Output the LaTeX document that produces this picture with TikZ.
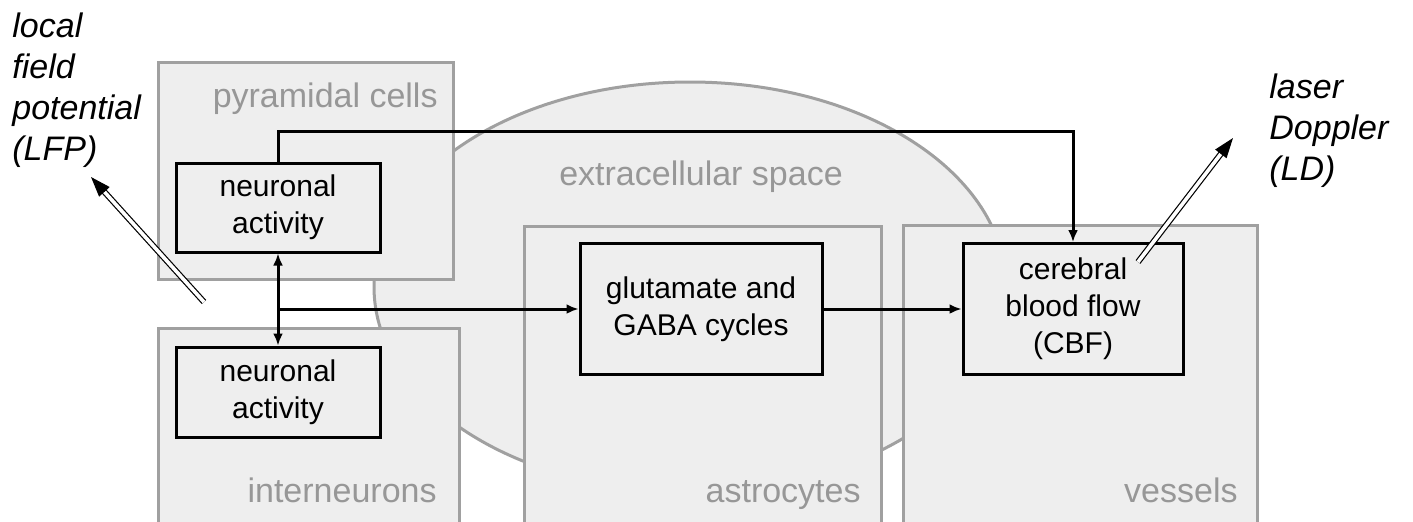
\documentclass[tikz,border=0pt]{standalone}
\usepackage{fontspec}
\setmainfont{Liberation Sans}
\usetikzlibrary{arrows.meta,shapes.geometric,calc}
\definecolor{regfill}{HTML}{EEEEEE}
\definecolor{regdraw}{HTML}{A0A0A0}
\definecolor{labgray}{HTML}{979797}
\tikzset{
  region/.style={draw=regdraw, fill=regfill, line width=1.5pt, inner sep=0pt, anchor=north west},
  ecsshape/.style={ellipse, draw=regdraw, fill=regfill, line width=1.5pt, inner sep=0pt},
  bbox/.style={draw=black, line width=1.5pt, align=center, inner sep=0pt,
    font=\fontsize{15pt}{18.5pt}\selectfont},
  graylab/.style={text=labgray, inner sep=0pt, font=\fontsize{17pt}{20pt}\selectfont},
  measlab/.style={inner sep=0pt, align=left, anchor=base west, font=\fontsize{17pt}{20.5pt}\selectfont\itshape},
  conn/.style={line width=1.5pt, -{Latex[length=6pt,width=5pt]}},
  biconn/.style={line width=1.5pt, {Latex[length=6pt,width=5pt]}-{Latex[length=6pt,width=5pt]}},
  meas/.style={line width=0.6pt, double=white, double distance=1.8pt, shorten >=7pt},
  meashead/.style={line width=0.6pt, -{Triangle[length=10pt,width=7pt]}}
}
\begin{document}
\begin{tikzpicture}[x=0.5pt,y=-0.5pt]
\useasboundingbox (0,0) rectangle (1413,521);
\clip (0,0) rectangle (1413,521);

% extracellular space
\node[ecsshape, minimum width=316pt, minimum height=205pt] (ecs) at (690,287) {};

% regions
\node[region, minimum width=147.5pt, minimum height=108.5pt] (pyr) at (157,61) {};
\node[region, minimum width=150.5pt, minimum height=110pt] (int) at (157,327) {};
\node[region, minimum width=178.5pt, minimum height=158pt] (ast) at (523,225) {};
\node[region, minimum width=177pt, minimum height=158pt] (ves) at (902,224) {};

% region labels
\node[graylab, anchor=base east] (pyrlab) at (438,107) {pyramidal cells};
\node[graylab, anchor=base] (ecslab) at (701,185) {extracellular space};
\node[graylab, anchor=base east] (intlab) at (437,502) {interneurons};
\node[graylab, anchor=base east] (astlab) at (861,502) {astrocytes};
\node[graylab, anchor=base east] (veslab) at (1238,502) {vessels};

% inner boxes
\node[bbox, minimum width=102pt, minimum height=44.5pt] (pna) at (278,207.5) {neuronal\\activity};
\node[bbox, minimum width=102pt, minimum height=45pt] (ina) at (278,392) {neuronal\\activity};
\node[bbox, minimum width=121pt, minimum height=65.5pt] (glu) at (701,309) {glutamate and\\GABA cycles};
\node[bbox, minimum width=110pt, minimum height=65.5pt] (cbf) at (1073,309) {cerebral\\blood flow\\(CBF)};

% connectors
\draw[conn] (pna.north) -- ++(0,-30) -| (cbf.north);
\draw[biconn] (pna.south) -- (ina.north);
\coordinate (br) at (278,309);
\draw[conn] (br) -- (glu.west);
\draw[conn] (glu.east) -- (cbf.west);

% measurement arrows
\coordinate (lfptail) at (204,302);
\coordinate (lfphead) at (91,177);
\coordinate (ldtail) at (1138,262);
\coordinate (ldhead) at (1233,138);
\draw[meas] (lfptail) -- (lfphead);
\draw[meashead] ($(lfphead)!10pt!(lfptail)$) -- (lfphead);
\draw[meas] (ldtail) -- (ldhead);
\draw[meashead] ($(ldhead)!10pt!(ldtail)$) -- (ldhead);

% measurement labels (base anchor = last line)
\node[measlab] (lfplab) at (12,160) {local\\field\\potential\\(LFP)};
\node[measlab] (ldlab) at (1269,180) {laser\\Doppler\\(LD)};
\end{tikzpicture}
\end{document}
